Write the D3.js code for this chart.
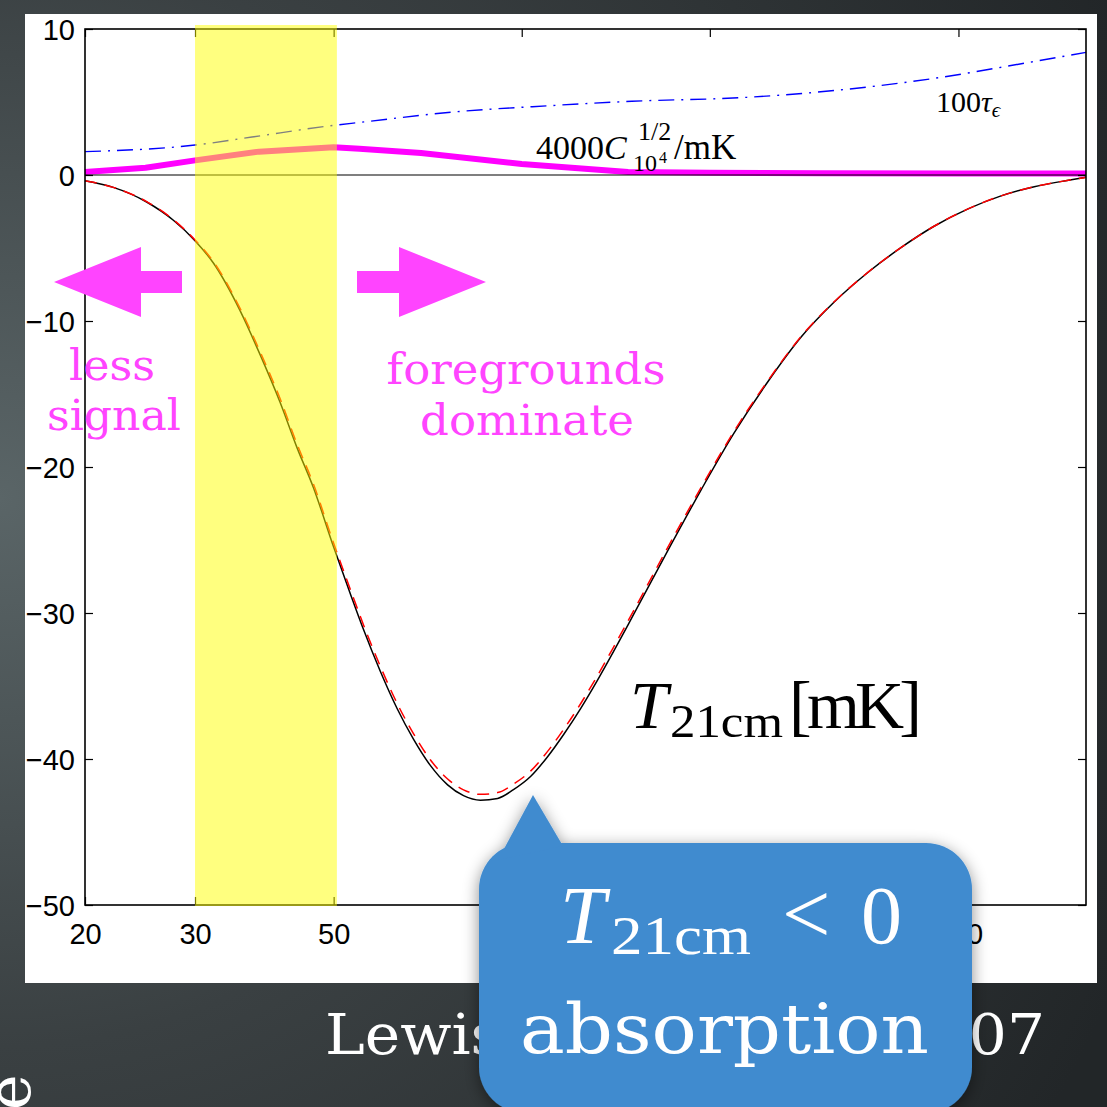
<!DOCTYPE html>
<meta charset="utf-8">
<style>
    body { margin: 0; background: #2c3032; }
    .tick text { font-family: "Liberation Sans", Arial, sans-serif; font-size: 29px; fill: #000; }
    .tick line { stroke: #000; stroke-width: 1.2; }
    .math { font-family: "Liberation Serif", "Times New Roman", serif; }
    .typew { font-family: "DejaVu Serif", serif; }
</style>
<body>

<script src="https://d3js.org/d3.v7.min.js"></script>
<script>
    // redshift samples for the brightness temperature curves
    var zT = [20, 22.2, 25.1, 27.7, 30, 32.1, 35.4, 38.1, 41.1, 43.7, 46.4, 50, 53.2, 55.8, 59.4, 63.2,
              67.1, 71.4, 76.1, 80.7, 85.9, 91.5, 97, 103.3, 110, 116.7, 124.3, 132.3, 140.3, 150,
              171.3, 193.5, 218.5, 248, 280, 316, 358, 405, 457, 518, 585, 661, 750, 800];
    var tBlack = [-0.4, -0.85, -1.85, -3.1, -4.5, -6.03, -9.27, -12.27, -15.63, -18.69, -21.4, -25.48, -28.71, -31.12, -34.01, -36.56,
                  -38.64, -40.44, -41.77, -42.51, -42.82, -42.7, -42.1, -41.2, -39.84, -38.32, -36.53, -34.58, -32.63, -30.34,
                  -25.73, -21.6, -17.7, -14.13, -11.1, -8.72, -6.68, -4.96, -3.51, -2.32, -1.43, -0.8, -0.36, -0.16];
    var tRed = [-0.4, -0.85, -1.82, -3.06, -4.45, -5.93, -9.12, -12.07, -15.38, -18.44, -21.15, -25.23, -28.41, -30.8, -33.66, -36.2,
                -38.26, -40.05, -41.37, -42.11, -42.42, -42.3, -41.72, -40.83, -39.48, -37.97, -36.2, -34.26, -32.33, -30.08,
                -25.51, -21.43, -17.58, -14.06, -11.06, -8.7, -6.67, -4.96, -3.51, -2.32, -1.43, -0.8, -0.36, -0.16];

    // 4000 C^{1/2}_{10^4} / mK
    var zC = [20, 25, 30, 38, 50, 55, 69, 100, 148, 200, 300, 500, 800];
    var cVals = [0.2, 0.5, 1.0, 1.6, 1.9, 1.8, 1.5, 0.75, 0.2, 0.15, 0.12, 0.1, 0.1];

    // 100 tau_eps
    var zTau = [20, 30, 37, 50, 55, 77, 111, 150, 225, 319, 454, 646, 800];
    var tauVals = [1.6, 2.05, 2.6, 3.4, 3.6, 4.3, 4.75, 5.05, 5.3, 5.8, 6.6, 7.7, 8.4];

    var xTicks = [20, 30, 50, 100, 200, 500];
    var yTicks = [-50, -40, -30, -20, -10, 0, 10];
    var bandZ = [30, 50.6];

    var svg = d3.select("body").append("svg")
        .attr("width", 1107)
        .attr("height", 1107);

    var defs = svg.append("defs");
    var bg = defs.append("radialGradient").attr("id", "bg")
        .attr("cx", 0).attr("cy", 0.45).attr("r", 1.1);
    bg.append("stop").attr("offset", 0).attr("stop-color", "#5a6567");
    bg.append("stop").attr("offset", 0.45).attr("stop-color", "#3a4042");
    bg.append("stop").attr("offset", 1).attr("stop-color", "#222628");

    var shadow = defs.append("filter").attr("id", "shadow")
        .attr("x", -0.2).attr("y", -0.2).attr("width", 1.4).attr("height", 1.4);
    shadow.append("feDropShadow").attr("dx", 0).attr("dy", 4)
        .attr("stdDeviation", 8).attr("flood-color", "#000").attr("flood-opacity", 0.45);

    svg.append("rect").attr("width", 1107).attr("height", 1107).attr("fill", "url(#bg)");

    // white slide panel
    svg.append("rect").attr("x", 25).attr("y", 14).attr("width", 1072).attr("height", 969).attr("fill", "#fff");

    var x = d3.scaleLog().domain([20, 800]).range([85, 1086]);
    var y = d3.scaleLinear().domain([-50, 10]).range([905, 29]);

    var line = d3.line()
        .x(d => x(d[0]))
        .y(d => y(d[1]));

    var plot = svg.append("g");

    // tau line, dash-dot
    plot.append("path")
        .datum(d3.zip(zTau, tauVals))
        .attr("fill", "none")
        .attr("stroke", "#0000ff")
        .attr("stroke-width", 1.4)
        .attr("stroke-dasharray", "16,7,2,7")
        .attr("d", line.curve(d3.curveMonotoneX));

    // C^{1/2} line, thick magenta
    plot.append("path")
        .datum(d3.zip(zC, cVals))
        .attr("fill", "none")
        .attr("stroke", "#ff00ff")
        .attr("stroke-width", 6)
        .attr("stroke-linejoin", "round")
        .attr("d", line.curve(d3.curveLinear));

    // zero line
    plot.append("line")
        .attr("x1", x(20)).attr("x2", x(800))
        .attr("y1", y(0)).attr("y2", y(0))
        .attr("stroke", "#000").attr("stroke-width", 1.2);

    // T21 black solid and red dashed
    plot.append("path")
        .datum(d3.zip(zT, tBlack))
        .attr("fill", "none")
        .attr("stroke", "#000")
        .attr("stroke-width", 1.5)
        .attr("d", line.curve(d3.curveMonotoneX));

    plot.append("path")
        .datum(d3.zip(zT, tRed))
        .attr("fill", "none")
        .attr("stroke", "#ff0000")
        .attr("stroke-width", 1.5)
        .attr("stroke-dasharray", "12,8")
        .attr("d", line.curve(d3.curveMonotoneX));

    // axes
    svg.append("g")
        .attr("transform", "translate(0," + y(-50) + ")")
        .call(d3.axisBottom(x).tickValues(xTicks).tickSize(-8).tickSizeOuter(0).tickPadding(18).tickFormat(d3.format("d")))
        .call(g => g.select(".domain").remove());
    svg.append("g")
        .attr("transform", "translate(0," + y(10) + ")")
        .call(d3.axisTop(x).tickValues(xTicks).tickSize(-8).tickSizeOuter(0).tickFormat(""))
        .call(g => g.select(".domain").remove());
    svg.append("g")
        .attr("transform", "translate(" + x(20) + ",0)")
        .call(d3.axisLeft(y).tickValues(yTicks).tickSize(-8).tickSizeOuter(0).tickPadding(10))
        .call(g => g.select(".domain").remove())
        .call(g => g.selectAll(".tick text").attr("dy", "0.36em"));
    svg.append("g")
        .attr("transform", "translate(" + x(800) + ",0)")
        .call(d3.axisRight(y).tickValues(yTicks).tickSize(-8).tickSizeOuter(0).tickFormat(""))
        .call(g => g.select(".domain").remove());

    svg.append("rect")
        .attr("x", x(20)).attr("y", y(10))
        .attr("width", x(800) - x(20)).attr("height", y(-50) - y(10))
        .attr("fill", "none").attr("stroke", "#000").attr("stroke-width", 1.6);

    // yellow window, drawn over the curves
    svg.append("rect")
        .attr("x", x(bandZ[0])).attr("y", y(10) - 4)
        .attr("width", x(bandZ[1]) - x(bandZ[0]))
        .attr("height", y(-50) - y(10) + 5)
        .attr("fill", "#ffff00").attr("opacity", 0.5);

    // labels on the curves
    var lab = svg.append("g").attr("class", "math").attr("fill", "#000");
    var t1 = lab.append("text").attr("x", 536).attr("y", 159).attr("font-size", 34);
    t1.append("tspan").text("4000");
    t1.append("tspan").attr("font-style", "italic").text("C");
    lab.append("text").attr("x", 638).attr("y", 140).attr("font-size", 26).text("1/2");
    lab.append("text").attr("x", 633).attr("y", 171).attr("font-size", 24).text("10");
    lab.append("text").attr("x", 659).attr("y", 163).attr("font-size", 16).text("4");
    lab.append("text").attr("x", 674).attr("y", 159).attr("font-size", 35).text("/mK");

    var t2 = lab.append("text").attr("x", 936).attr("y", 112).attr("font-size", 30);
    t2.append("tspan").text("100");
    t2.append("tspan").attr("font-style", "italic").text("τ");
    t2.append("tspan").attr("font-style", "italic").attr("font-size", 21).attr("dy", 5).text("ϵ");

    lab.append("text").attr("x", 630).attr("y", 728).attr("font-size", 68).attr("font-style", "italic").text("T");
    lab.append("text").attr("x", 670).attr("y", 737).attr("font-size", 46)
        .attr("textLength", 113).attr("lengthAdjust", "spacingAndGlyphs").text("21cm");
    lab.append("text").attr("x", 789).attr("y", 728).attr("font-size", 68)
        .attr("textLength", 133).attr("lengthAdjust", "spacing").text("[mK]");

    // magenta annotations
    var pink = "#ff44ff";
    svg.append("path")
        .attr("d", "M54,282 L141,247 L141,271 L182,271 L182,293 L141,293 L141,317 Z")
        .attr("fill", pink);
    svg.append("path")
        .attr("d", "M486,282 L399,247 L399,271 L357,271 L357,293 L399,293 L399,317 Z")
        .attr("fill", pink);

    var ann = svg.append("g").attr("class", "typew").attr("fill", pink)
        .attr("text-anchor", "middle").attr("font-size", 43);
    ann.append("text").attr("x", 112).attr("y", 380)
        .attr("textLength", 86).attr("lengthAdjust", "spacingAndGlyphs").text("less");
    ann.append("text").attr("x", 114).attr("y", 430)
        .attr("textLength", 134).attr("lengthAdjust", "spacingAndGlyphs").text("signal");
    ann.append("text").attr("x", 526).attr("y", 384)
        .attr("textLength", 279).attr("lengthAdjust", "spacingAndGlyphs").text("foregrounds");
    ann.append("text").attr("x", 527).attr("y", 435)
        .attr("textLength", 214).attr("lengthAdjust", "spacingAndGlyphs").text("dominate");

    // citation on the dark slide
    svg.append("text").attr("class", "typew")
        .attr("x", 325).attr("y", 1054)
        .attr("font-size", 56).attr("fill", "#fff")
        .attr("textLength", 720).attr("lengthAdjust", "spacingAndGlyphs")
        .text("Lewis & Challinor 2007");
    svg.append("text").attr("class", "typew")
        .attr("transform", "translate(30,1110) rotate(-90)")
        .attr("x", 0).attr("y", 0)
        .attr("font-size", 60).attr("fill", "#fff")
        .text("e");

    // callout bubble
    var bubble = svg.append("g").attr("filter", "url(#shadow)");
    bubble.append("rect")
        .attr("x", 479).attr("y", 843).attr("width", 493).attr("height", 270)
        .attr("rx", 46).attr("ry", 46)
        .attr("fill", "#418bcf");
    bubble.append("path")
        .attr("d", "M533,795 L498,860 L563,846 Z")
        .attr("fill", "#418bcf");

    var cb = svg.append("g").attr("fill", "#fff");
    cb.append("text").attr("class", "math").attr("x", 560).attr("y", 943)
        .attr("font-size", 82).attr("font-style", "italic").text("T");
    cb.append("text").attr("class", "math").attr("x", 611).attr("y", 954)
        .attr("font-size", 55).attr("textLength", 140).attr("lengthAdjust", "spacingAndGlyphs").text("21cm");
    cb.append("text").attr("class", "math").attr("x", 782).attr("y", 943)
        .attr("font-size", 86).text("<");
    cb.append("text").attr("class", "math").attr("x", 861).attr("y", 943)
        .attr("font-size", 82).text("0");
    cb.append("text").attr("class", "typew").attr("x", 520).attr("y", 1053)
        .attr("font-size", 70).attr("textLength", 409).attr("lengthAdjust", "spacingAndGlyphs")
        .text("absorption");
</script>

</body>
</html>
